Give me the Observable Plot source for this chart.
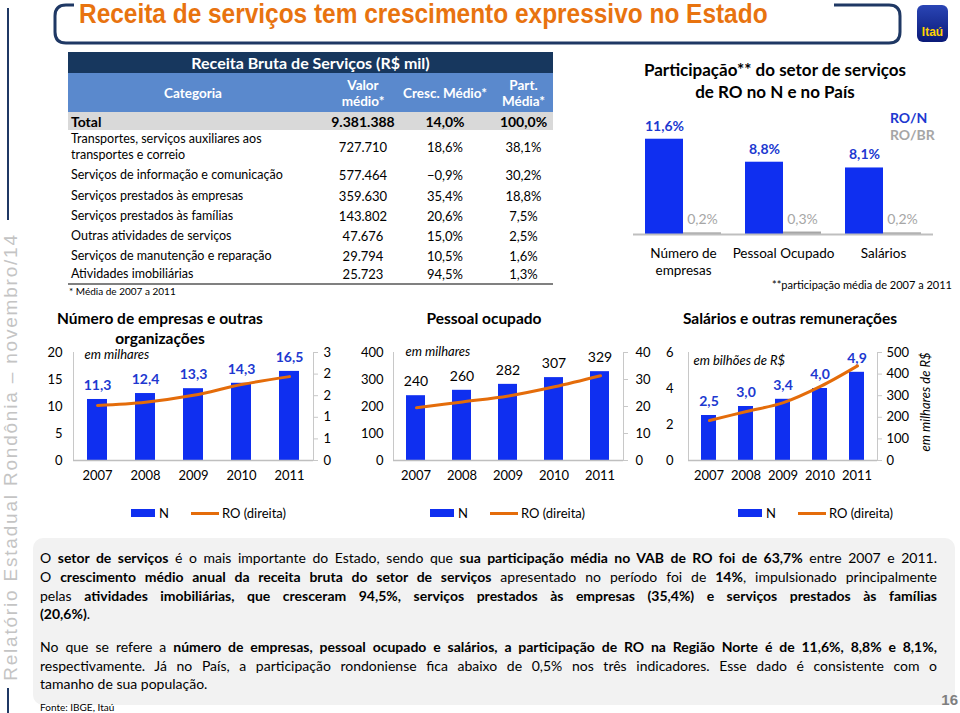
<!DOCTYPE html>
<html><head><meta charset="utf-8">
<script src="https://cdn.jsdelivr.net/npm/d3@7"></script>
<script src="https://cdn.jsdelivr.net/npm/@observablehq/plot@0.6"></script>
<style>
body{margin:0;background:#fff;}
#root{position:relative;width:960px;height:713px;overflow:hidden;font-family:Lato,"Noto Sans",sans-serif;color:#000;background:#fff;}
.abs{position:absolute;}
.abs svg{overflow:visible;}
g[aria-label$="tick label"] text, g[aria-label="x-axis"] text, g[aria-label="y-axis"] text, g[aria-label="fx-axis"] text {fill:#000;}
.tbl{position:absolute;left:68px;top:52px;width:485px;display:grid;grid-template-columns:250px 90px 74px 71px;}
.tbl div{display:flex;align-items:center;}
.c{justify-content:center;text-align:center;}
.line{position:absolute;left:40px;width:897px;height:19px;line-height:19px;font-size:14px;white-space:nowrap;}
.just{text-align:justify;text-align-last:justify;white-space:normal;}
</style></head><body><div id="root"></div>
<script>
// ---------- data ----------
const years = ["2007", "2008", "2009", "2010", "2011"];
const empresasN = [11.3, 12.4, 13.3, 14.3, 16.5];
const empresasRO = [1.53, 1.62, 1.81, 2.11, 2.33];
const pessoalN = [240, 260, 282, 307, 329];
const pessoalRO = [19.5, 21.7, 23.9, 27.3, 31.4];
const salariosN = [2.5, 3.0, 3.4, 4.0, 4.9];
const salariosRO = [185, 227, 268, 343, 438];

const empresasLeftTicks = [0, 5, 10, 15, 20];
const empresasRightTicks = [0, 0.6, 1.2, 1.8, 2.4, 3];
const pessoalLeftTicks = [0, 100, 200, 300, 400];
const pessoalRightTicks = [0, 10, 20, 30, 40];
const salariosLeftTicks = [0, 2, 4, 6];
const salariosRightTicks = [0, 100, 200, 300, 400, 500];

const partCats = ["Número de empresas", "Pessoal Ocupado", "Salários"];
const partCatLabels = ["Número de\nempresas", "Pessoal Ocupado", "Salários"];
const partSeries = ["RO/N", "RO/BR"];
const partRON = [11.6, 8.8, 8.1];
const partROBR = [0.2, 0.3, 0.2];

const tableHeader = ["Categoria", "Valor\nmédio*", "Cresc. Médio*", "Part.\nMédia*"];
const tableTotal = ["Total", 9381388, 14.0, 100.0];
const tableCats = [
  "Transportes, serviços auxiliares aos\ntransportes e correio",
  "Serviços de informação e comunicação",
  "Serviços prestados às empresas",
  "Serviços prestados às famílias",
  "Outras atividades de serviços",
  "Serviços de manutenção e reparação",
  "Atividades imobiliárias"
];
const tableValor = [727710, 577464, 359630, 143802, 47676, 29794, 25723];
const tableCresc = [18.6, -0.9, 35.4, 20.6, 15.0, 10.5, 94.5];
const tablePart = [38.1, 30.2, 18.8, 7.5, 2.5, 1.6, 1.3];

// ---------- helpers ----------
const BLUE = "#0f2ff0";
const LBLUE = "#2038d0";
const ORANGE = "#e46c0a";
const NAVY = "#1f3864";
const loc = d3.formatLocale({decimal: ",", thousands: ".", grouping: [3], currency: ["R$", ""]});
const f1 = loc.format(".1f");
const fInt = loc.format(",d");
const root = document.getElementById("root");
function el(tag, css, html) {
  const e = document.createElement(tag);
  if (css) e.style.cssText = css;
  if (html != null) e.innerHTML = html;
  root.appendChild(e);
  return e;
}
function place(node, left, top) {
  const w = document.createElement("div");
  w.className = "abs";
  w.style.left = left + "px"; w.style.top = top + "px";
  w.appendChild(node);
  root.appendChild(w);
}

// ---------- header decoration ----------
const deco = `<svg width="960" height="713" style="position:absolute;left:0;top:0" xmlns="http://www.w3.org/2000/svg">
<defs><linearGradient id="lg" x1="0" y1="0" x2="0" y2="1"><stop offset="0" stop-color="#2a45b5"/><stop offset="1" stop-color="#0a1a78"/></linearGradient></defs>
<path d="M74 5 H66 Q55 5 55 16 V32 Q55 43 66 43 H889 Q900 43 900 32 V16 Q900 5 889 5 H834" fill="none" stroke="${NAVY}" stroke-width="3"/>
<line x1="8" y1="8" x2="8" y2="220" stroke="${NAVY}" stroke-width="2"/>
<line x1="8" y1="688" x2="8" y2="713" stroke="${NAVY}" stroke-width="2"/>
<rect x="917" y="5" width="31" height="37" rx="6" fill="url(#lg)"/>
<text x="932.5" y="36" text-anchor="middle" font-family="Liberation Sans, Arial" font-weight="bold" font-size="12" fill="#ffd200">Itaú</text>
<rect x="33" y="538" width="922" height="167" rx="10" fill="#f2f2f2"/>
</svg>`;
el("div", "position:absolute;left:0;top:0", deco);
el("div", "position:absolute;left:79px;top:-1px;font-family:'Liberation Sans',Arial,sans-serif;font-weight:bold;font-size:27px;color:#e8730f;white-space:nowrap;transform:scaleX(0.905);transform-origin:0 0;", "Receita de serviços tem crescimento expressivo no Estado");
el("div", "position:absolute;left:-219px;top:446px;width:460px;height:22px;line-height:22px;text-align:center;font-family:'Liberation Sans',Arial,sans-serif;font-size:19px;letter-spacing:1.8px;color:#c4c4c4;white-space:nowrap;transform:rotate(-90deg);", "Relatório Estadual Rondônia – novembro/14");

// ---------- table ----------
const tbl = document.createElement("div");
tbl.className = "tbl";
tbl.style.gridTemplateRows = "21px 39px 18px 34px 21px 21px 20px 20px 19px 18px";
tbl.style.borderBottom = "2px solid #808080";
let h = `<div class="c" style="grid-column:1 / 5;background:#17375e;color:#fff;font-weight:bold;font-size:16px;">Receita Bruta de Serviços (R$ mil)</div>`;
tableHeader.forEach((t, i) => {
  const extra = i === 2 ? "white-space:nowrap;position:relative;z-index:2;overflow:visible;" : "white-space:pre-line;";
  h += `<div class="c" style="background:#5a89cd;color:#fff;font-weight:bold;font-size:13.5px;line-height:16px;${extra}${i === 3 ? "padding-left:12px;" : ""}">${t}</div>`;
});
h += `<div style="background:#d9d9d9;font-weight:bold;font-size:14px;padding-left:3px;">${tableTotal[0]}</div>`;
h += `<div class="c" style="background:#d9d9d9;font-weight:bold;font-size:14px;">${fInt(tableTotal[1])}</div>`;
h += `<div class="c" style="background:#d9d9d9;font-weight:bold;font-size:14px;">${f1(tableTotal[2])}%</div>`;
h += `<div class="c" style="background:#d9d9d9;font-weight:bold;font-size:14px;padding-left:12px;">${f1(tableTotal[3])}%</div>`;
tableCats.forEach((c, i) => {
  h += `<div style="font-size:12.5px;line-height:16px;white-space:pre-line;padding-left:3px;">${c}</div>`;
  h += `<div class="c" style="font-size:13px;">${fInt(tableValor[i])}</div>`;
  h += `<div class="c" style="font-size:13px;">${f1(tableCresc[i])}%</div>`;
  h += `<div class="c" style="font-size:13px;padding-left:12px;">${f1(tablePart[i])}%</div>`;
});
tbl.innerHTML = h;
root.appendChild(tbl);
el("div", "position:absolute;left:69px;top:285px;font-size:10px;", "* Média de 2007 a 2011");

// ---------- participation chart ----------
el("div", "position:absolute;left:615px;top:59px;width:320px;text-align:center;font-weight:bold;font-size:17px;line-height:22px;", "Participação** do setor de serviços<br>de RO no N e no País");
const partData = partCats.flatMap((c, i) => [
  {cat: c, series: partSeries[0], v: partRON[i]},
  {cat: c, series: partSeries[1], v: partROBR[i]}
]);
const partPlot = Plot.plot({
  width: 330, height: 190, marginLeft: 17, marginRight: 12, marginTop: 19, marginBottom: 56,
  style: {fontFamily: "Lato, sans-serif", fontSize: "13px", background: "transparent", color: "#000"},
  fx: {domain: partCats, padding: 0, label: null, axis: null},
  x: {domain: partSeries, paddingInner: 0, paddingOuter: 0.288, axis: null},
  y: {domain: [0, 14], axis: null},
  color: {domain: partSeries, range: [BLUE, "#a6a6a6"]},
  marks: [
    Plot.barY(partData, {fx: "cat", x: "series", y: "v", fill: "series"}),
    Plot.ruleY([0], {stroke: "#bfbfbf", strokeWidth: 2}),
    Plot.text(partData.filter(d => d.series === "RO/N"), {fx: "cat", x: "series", y: "v", text: d => f1(d.v) + "%", dy: -13, fill: LBLUE, fontWeight: "bold", fontSize: 14}),
    Plot.text(partData.filter(d => d.series === "RO/BR"), {fx: "cat", x: "series", y: "v", text: d => f1(d.v) + "%", dy: -13, fill: "#a6a6a6", fontSize: 14}),
    Plot.text(partCats, {fx: d => d, text: (d, i) => partCatLabels[i], frameAnchor: "bottom", lineAnchor: "top", dy: 12, lineHeight: 1.22, fontSize: 13.5, fill: "#000"})
  ]
});
place(partPlot, 615, 100);
el("div", "position:absolute;left:890px;top:109px;font-weight:bold;font-size:14px;color:" + LBLUE, "RO/N");
el("div", "position:absolute;left:890px;top:126px;font-weight:bold;font-size:14px;color:#a6a6a6", "RO/BR");
el("div", "position:absolute;left:772px;top:278px;font-size:11px;", "**participação média de 2007 a 2011");

// ---------- combo charts ----------
function combo(cfg) {
  const data = years.map((y, i) => ({year: y, n: cfg.n[i], ro: cfg.ro[i]}));
  const common = {width: cfg.w, height: 150, marginTop: 12, marginBottom: 30, marginLeft: cfg.mL, marginRight: cfg.mR};
  const st = {fontFamily: "Lato, sans-serif", fontSize: "13px", background: "transparent", color: "#c8c8c8"};
  const bars = Plot.plot({
    ...common, style: st,
    x: {domain: years, paddingInner: cfg.pi, paddingOuter: cfg.pi / 2, tickSize: 0, tickPadding: 10, label: null},
    y: {domain: cfg.nDomain, ticks: cfg.nTicks, tickSize: 0, tickPadding: cfg.lPad, label: null, line: true, tickFormat: d3.format("d")},
    marks: [
      Plot.barY(data, {x: "year", y: "n", fill: BLUE}),
      Plot.ruleY([0], {stroke: "#bfbfbf", strokeWidth: 1.5}),
      Plot.text(data, {x: "year", y: "n", text: d => cfg.lf(d.n), dy: -14, fill: cfg.lc, fontWeight: cfg.lw, fontSize: 14}),
      Plot.text([cfg.note], {frameAnchor: "top-left", dx: cfg.ndx, dy: cfg.ndy, text: d => d, fontStyle: "italic", fill: "#000", fontSize: 13})
    ]
  });
  const line = Plot.plot({
    ...common, style: st,
    x: {domain: years, paddingInner: cfg.pi, paddingOuter: cfg.pi / 2, axis: null},
    y: {domain: cfg.roDomain, ticks: cfg.roTicks, axis: "right", tickSize: 4, tickPadding: cfg.rPad, label: null, line: true, tickFormat: cfg.rf},
    marks: [
      Plot.line(data, {x: "year", y: "ro", stroke: ORANGE, strokeWidth: 3, curve: "catmull-rom"})
    ]
  });
  place(bars, cfg.left, 340);
  place(line, cfg.left, 340);
  el("div", `position:absolute;left:${cfg.legX}px;top:505px;font-size:13px;display:flex;align-items:center;height:16px;white-space:nowrap;`,
    `<span style="display:inline-block;width:24px;height:8px;background:${BLUE};margin-right:4px"></span>N<span style="display:inline-block;width:28px;height:3px;background:${ORANGE};margin-left:22px;margin-right:3px"></span>RO (direita)`);
  el("div", `position:absolute;left:${cfg.titleX - 150}px;top:${cfg.titleTop}px;width:300px;text-align:center;font-weight:bold;font-size:15.5px;line-height:20px;`, cfg.title);
}
const fmt1 = d => f1(d);
combo({left: 40, w: 300, mL: 33, mR: 27, pi: 0.58, n: empresasN, ro: empresasRO,
  nDomain: [0, 20], nTicks: empresasLeftTicks, roDomain: [0, 3], roTicks: empresasRightTicks, rf: d3.format(".0f"),
  lPad: 11, rPad: 6, lf: fmt1, lc: LBLUE, lw: "bold", note: "em milhares", ndx: 11, ndy: -3,
  legX: 131, titleX: 160, titleTop: 308, title: "Número de empresas e outras<br>organizações"});
combo({left: 335, w: 325, mL: 58, mR: 37, pi: 0.58, n: pessoalN, ro: pessoalRO,
  nDomain: [0, 400], nTicks: pessoalLeftTicks, roDomain: [0, 40], roTicks: pessoalRightTicks, rf: d3.format("d"),
  lPad: 10, rPad: 8, lf: d => String(d), lc: "#000", lw: "normal", note: "em milhares", ndx: 12, ndy: -6,
  legX: 430, titleX: 484, titleTop: 308, title: "Pessoal ocupado"});
combo({left: 655, w: 300, mL: 33, mR: 78, pi: 0.6, n: salariosN, ro: salariosRO,
  nDomain: [0, 6], nTicks: salariosLeftTicks, roDomain: [0, 500], roTicks: salariosRightTicks, rf: d3.format("d"),
  lPad: 15, rPad: 5, lf: fmt1, lc: LBLUE, lw: "bold", note: "em bilhões de R$", ndx: 5, ndy: 3,
  legX: 738, titleX: 790, titleTop: 308, title: "Salários e outras remunerações"});
el("div", "position:absolute;left:865px;top:394px;width:120px;height:16px;line-height:16px;text-align:center;font-style:italic;font-size:13px;white-space:nowrap;transform:rotate(-90deg);", "em milhares de R$");

// ---------- text block ----------
const textLines = [
  {y: 557, j: true, h: "O <b>setor de serviços</b> é o mais importante do Estado, sendo que <b>sua participação média no VAB de RO foi de 63,7%</b> entre 2007 e 2011."},
  {y: 576, j: true, h: "O <b>crescimento médio anual da receita bruta do setor de serviços</b> apresentado no período foi de <b>14%</b>, impulsionado principalmente"},
  {y: 595, j: true, h: "pelas <b>atividades imobiliárias, que cresceram 94,5%, serviços prestados às empresas (35,4%) e serviços prestados às famílias</b>"},
  {y: 613, j: false, h: "<b>(20,6%)</b>."},
  {y: 646, j: true, h: "No que se refere a <b>número de empresas, pessoal ocupado e salários, a participação de RO na Região Norte é de 11,6%, 8,8% e 8,1%,</b>"},
  {y: 665, j: true, h: "respectivamente. Já no País, a participação rondoniense fica abaixo de 0,5% nos três indicadores. Esse dado é consistente com o"},
  {y: 683, j: false, h: "tamanho de sua população."}
];
textLines.forEach(t => {
  const d = el("div", `top:${t.y - 9.5}px;`, t.h);
  d.className = "line" + (t.j ? " just" : "");
});
el("div", "position:absolute;left:40px;top:701px;font-size:10px;", "Fonte: IBGE, Itaú");
el("div", "position:absolute;left:920px;top:691px;width:38px;text-align:right;font-family:'Liberation Sans',Arial,sans-serif;font-weight:bold;font-size:15px;color:#7f7f7f;", "16");
</script></body></html>
